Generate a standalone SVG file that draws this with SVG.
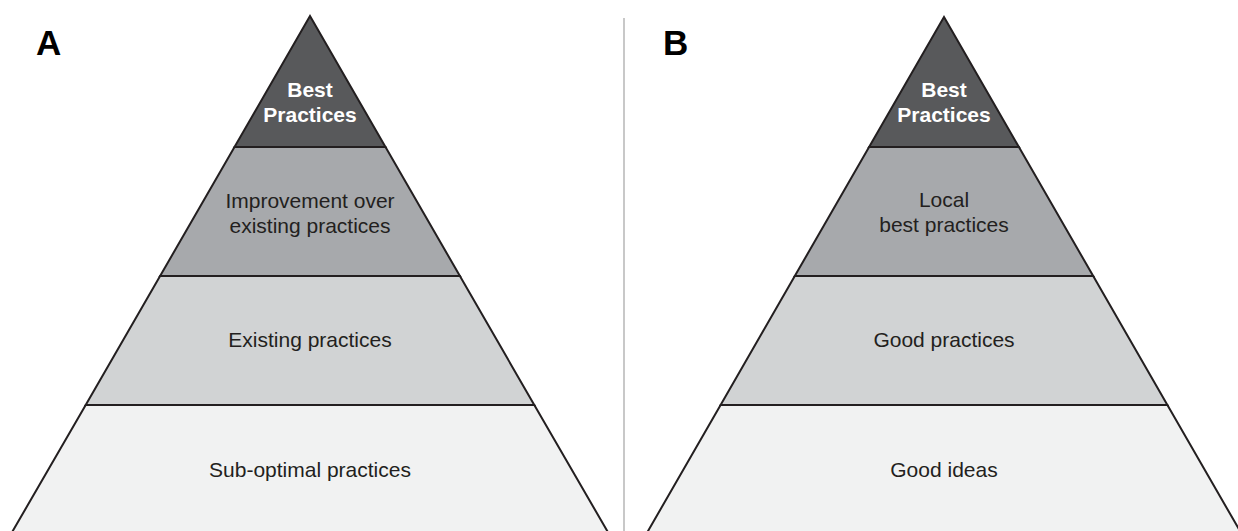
<svg xmlns="http://www.w3.org/2000/svg" width="1238" height="531" viewBox="0 0 1238 531">
<style>
.l1{fill:#58595b}
.l2{fill:#a7a9ac}
.l3{fill:#d1d3d4}
.l4{fill:#f1f2f2}
.edge{stroke:#231f20;stroke-width:2;stroke-linejoin:miter}
.t{font-family:"Liberation Sans",Arial,Helvetica,sans-serif;font-size:21px;fill:#231f20;text-anchor:middle}
.tb{font-family:"Liberation Sans",Arial,Helvetica,sans-serif;font-size:21px;font-weight:bold;fill:#ffffff;text-anchor:middle}
.lab{font-family:"Liberation Sans",Arial,Helvetica,sans-serif;font-size:35px;font-weight:bold;fill:#000000}
</style>
<rect width="1238" height="531" fill="#ffffff"/>
<line x1="624" y1="18" x2="624" y2="531" stroke="#c8c8c8" stroke-width="2"/>
<text class="lab" x="36" y="55">A</text>
<text class="lab" x="663" y="55">B</text>

<g id="pyramidA">
  <g id="A-best">
    <polygon class="l1 edge" points="310,16 385.5,147 234.5,147"/>
    <text class="tb" x="310" y="97">Best</text>
    <text class="tb" x="310" y="122">Practices</text>
  </g>
  <g id="A-improvement">
    <polygon class="l2 edge" points="234.5,147 385.5,147 459.9,276 160.1,276"/>
    <text class="t" x="310" y="208">Improvement over</text>
    <text class="t" x="310" y="233">existing practices</text>
  </g>
  <g id="A-existing">
    <polygon class="l3 edge" points="160.1,276 459.9,276 534.3,405 85.7,405"/>
    <text class="t" x="310" y="347">Existing practices</text>
  </g>
  <g id="A-suboptimal">
    <polygon class="l4 edge" points="85.7,405 534.3,405 609,534 11,534"/>
    <text class="t" x="310" y="477">Sub-optimal practices</text>
  </g>
</g>

<g id="pyramidB">
  <g id="B-best">
    <polygon class="l1 edge" points="944,17 1018.9,147 869.1,147"/>
    <text class="tb" x="944" y="97">Best</text>
    <text class="tb" x="944" y="122">Practices</text>
  </g>
  <g id="B-local">
    <polygon class="l2 edge" points="869.1,147 1018.9,147 1093.2,276 794.8,276"/>
    <text class="t" x="944" y="207">Local</text>
    <text class="t" x="944" y="232">best practices</text>
  </g>
  <g id="B-good">
    <polygon class="l3 edge" points="794.8,276 1093.2,276 1167.4,405 720.6,405"/>
    <text class="t" x="944" y="347">Good practices</text>
  </g>
  <g id="B-ideas">
    <polygon class="l4 edge" points="720.6,405 1167.4,405 1241.7,534 646.3,534"/>
    <text class="t" x="944" y="477">Good ideas</text>
  </g>
</g>
<g id="connectors"/>
</svg>
